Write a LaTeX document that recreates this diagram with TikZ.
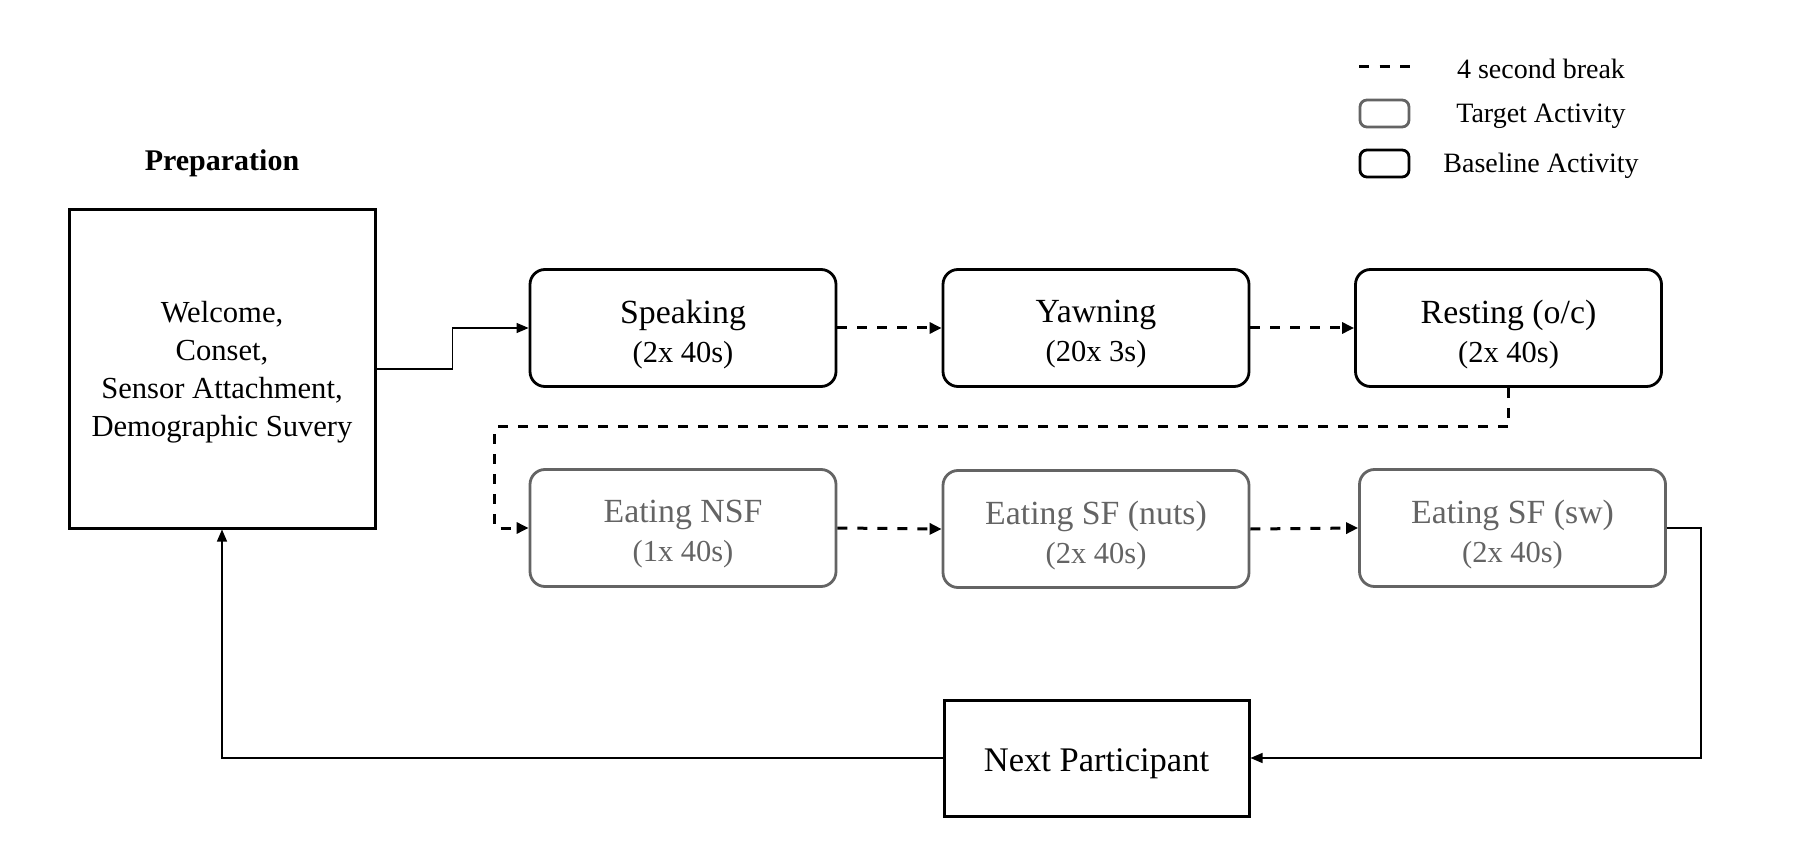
\documentclass[tikz,border=0pt]{standalone}
\usepackage{fontspec}
\setmainfont{Liberation Serif}
\usetikzlibrary{arrows.meta}
\definecolor{tgray}{RGB}{100,100,100}
\begin{document}
\begin{tikzpicture}[x=1pt,y=-1pt,
  actbox/.style={draw, line width=2.8pt, rounded corners=15pt, minimum width=306pt, minimum height=117pt, inner sep=0pt},
  targbox/.style={actbox, draw=tgray},
  plainbox/.style={draw, line width=3pt, inner sep=0pt},
  boxtext/.style={align=center, inner sep=0pt, font=\fontsize{30.5}{39}\selectfont},
  targtext/.style={boxtext, text=tgray},
  legtext/.style={anchor=base, inner sep=0pt, font=\fontsize{28}{34}\selectfont},
  dconn/.style={line width=3pt, dash pattern=on 10pt off 10pt, -{Triangle[length=12pt,width=11pt]}},
  tconn/.style={line width=1.2pt, -{Triangle[length=12pt,width=10pt]}}
]
\useasboundingbox (0,0) rectangle (1818,866);

% Preparation
\node[anchor=base, inner sep=0pt, font=\bfseries\fontsize{30}{36}\selectfont] (preplabel) at (222,171) {Preparation};
\node[plainbox, minimum width=306pt, minimum height=318pt] (prep) at (222,369) {};
\node[boxtext, font=\fontsize{30.6}{37.9}\selectfont] (prepT) at ([yshift=-3.2pt]prep.center) {Welcome,\\Conset,\\Sensor Attachment,\\Demographic Suvery};

% Baseline activities
\node[actbox] (speak) at (683,328) {};
\node[boxtext] (speakT) at ([yshift=-6.4pt]speak.center) {{\fontsize{33.8}{39}\selectfont Speaking}\\(2x 40s)};
\node[actbox] (yawn) at (1096,328) {};
\node[boxtext] (yawnT) at ([yshift=-6.4pt]yawn.center) {{\fontsize{33.8}{39}\selectfont Yawning}\\(20x 3s)};
\node[actbox] (rest) at (1508.5,328) {};
\node[boxtext] (restT) at ([yshift=-6.4pt]rest.center) {{\fontsize{33.8}{39}\selectfont Resting (o/c)}\\(2x 40s)};

% Target activities
\node[targbox] (nsf) at (683,528) {};
\node[targtext] (nsfT) at ([yshift=-6.4pt]nsf.center) {{\fontsize{33.8}{39}\selectfont Eating NSF}\\(1x 40s)};
\node[targbox] (nuts) at (1096,529) {};
\node[targtext] (nutsT) at ([yshift=-6.4pt]nuts.center) {{\fontsize{33.8}{39}\selectfont Eating SF (nuts)}\\(2x 40s)};
\node[targbox] (sw) at (1512.5,528) {};
\node[targtext] (swT) at ([yshift=-6.4pt]sw.center) {{\fontsize{33.8}{39}\selectfont Eating SF (sw)}\\(2x 40s)};

% Next participant
\node[plainbox, minimum width=305pt, minimum height=116pt] (next) at (1096.5,758) {};
\node[anchor=base, inner sep=0pt, font=\fontsize{34.5}{40}\selectfont] (nextT) at ([yshift=-13pt]next.center) {Next Participant};

% Connectors
\draw[tconn] (prep.east) -- ++(76,0) |- (speak.west);
\draw[dconn] (speak.east) -- (yawn.west);
\draw[dconn] (yawn.east) -- (rest.west);
\draw[dconn] (rest.south) -- ++(0,39) -| ([xshift=-34pt]nsf.west) -- (nsf.west);
\draw[dconn] (nsf.east) -- (nuts.west);
\draw[dconn] (nuts.east) -- (sw.west);
\draw[tconn] (sw.east) -- ++(34,0) |- (next.east);
\draw[tconn] (next.west) -| (prep.south);

% Legend
\coordinate (legA) at (1359,67);
\coordinate (legB) at (1410,67);
\draw[line width=3pt, dash pattern=on 10pt off 10.5pt] (legA) -- (legB);
\node[legtext] (legbreak) at (1541,79) {4 second break};
\node[draw=tgray, line width=2.8pt, rounded corners=7pt, minimum width=49pt, minimum height=27pt, inner sep=0pt] (legT) at (1384.5,113.5) {};
\node[legtext] (legtarget) at (1541,122.5) {Target Activity};
\node[draw, line width=2.8pt, rounded corners=7pt, minimum width=49pt, minimum height=27pt, inner sep=0pt] (legBl) at (1384.5,163.5) {};
\node[legtext] (legbase) at (1541,173) {Baseline Activity};
\end{tikzpicture}
\end{document}
